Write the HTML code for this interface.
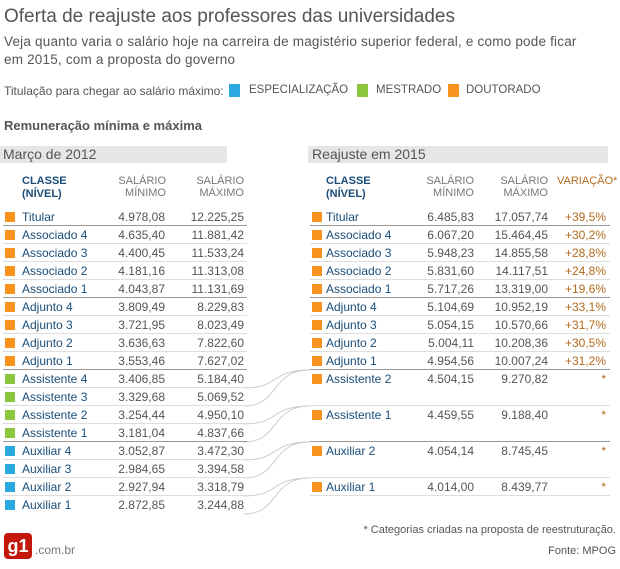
<!DOCTYPE html><html><head><meta charset="utf-8"><style>
body{margin:0;width:620px;height:569px;background:#fff;font-family:"Liberation Sans",sans-serif;position:relative;overflow:hidden;color:#555}
.a{position:absolute;white-space:nowrap}
.r{position:absolute;height:17px;line-height:18px;font-size:12px;border-bottom:1px solid #ddd}
.r.d{border-bottom-color:#999}
.r span{position:absolute;top:0}
.sq{width:10px;height:10px;top:4px!important}
.n{color:#1a4d78}
.o{background:#f7931e}.g{background:#8cc63f}.b{background:#29a9e0}
.v{color:#b36a1c}
.h{font-size:11px;line-height:12px;color:#777;text-align:right}
</style></head><body>
<div class="a" style="left:4px;top:6px;font-size:19px;color:#555">Oferta de reajuste aos professores das universidades</div>
<div class="a" style="left:4px;top:33px;font-size:13.5px;line-height:18px;color:#555;white-space:normal;width:578px;letter-spacing:0.2px">Veja quanto varia o salário hoje na carreira de magistério superior federal, e como pode ficar em 2015, com a proposta do governo</div>
<div class="a" style="left:4px;top:84px;font-size:12px;color:#555">Titulação para chegar ao salário máximo:</div>
<div class="a b" style="left:229px;top:84px;width:11px;height:13px"></div><div class="a" style="left:249px;top:84px;font-size:11.5px">ESPECIALIZAÇÃO</div>
<div class="a g" style="left:357px;top:84px;width:11px;height:13px"></div><div class="a" style="left:376px;top:84px;font-size:11.5px">MESTRADO</div>
<div class="a o" style="left:448px;top:84px;width:11px;height:13px"></div><div class="a" style="left:466px;top:84px;font-size:11.5px">DOUTORADO</div>
<div class="a" style="left:4px;top:118px;font-size:13px;font-weight:bold;color:#555">Remuneração mínima e máxima</div>
<div class="a" style="left:0;top:146px;width:227px;height:17px;background:#e6e6e6;font-size:14px;line-height:17px;padding-left:3px;box-sizing:border-box">Março de 2012</div>
<div class="a" style="left:308px;top:146px;width:300px;height:17px;background:#e6e6e6;font-size:14px;line-height:17px;padding-left:4px;box-sizing:border-box">Reajuste em 2015</div>
<div class="a n" style="left:22px;top:175px;font-size:11px;font-weight:bold;line-height:13px">CLASSE<br>(NÍVEL)</div>
<div class="a h" style="left:100px;top:175px;width:66px">SALÁRIO<br>MÍNIMO</div>
<div class="a h" style="left:170px;top:175px;width:74px">SALÁRIO<br>MÁXIMO</div>
<div class="a n" style="left:326px;top:175px;font-size:11px;font-weight:bold;line-height:13px">CLASSE<br>(NÍVEL)</div>
<div class="a h" style="left:405px;top:175px;width:69px">SALÁRIO<br>MÍNIMO</div>
<div class="a h" style="left:475px;top:175px;width:73px">SALÁRIO<br>MÁXIMO</div>
<div class="a h" style="left:550px;top:175px;width:70px;color:#b36a1c;text-align:left;padding-left:7px">VARIAÇÃO*</div>
<svg class="a" style="left:200px;top:360px" width="130" height="160"><g fill="none" stroke="#ccc" stroke-width="1">
<path d="M44,28 C80,28 70,10 110,10"/><path d="M44,46 C80,46 70,10 110,10"/><path d="M44,64 C80,64 70,46 110,46"/><path d="M44,82 C80,82 70,46 110,46"/>
<path d="M44,100 C80,100 70,82 110,82"/><path d="M44,118 C80,118 70,82 110,82"/><path d="M44,136 C80,136 70,118 110,118"/><path d="M44,154 C80,154 70,118 110,118"/></g></svg>
<div class="r d" style="left:3px;top:208px;width:244px"><span class="sq o" style="left:2px"></span><span class="n" style="left:19px">Titular</span><span style="right:82px">4.978,08</span><span style="right:3px">12.225,25</span></div>
<div class="r" style="left:3px;top:226px;width:244px"><span class="sq o" style="left:2px"></span><span class="n" style="left:19px">Associado 4</span><span style="right:82px">4.635,40</span><span style="right:3px">11.881,42</span></div>
<div class="r" style="left:3px;top:244px;width:244px"><span class="sq o" style="left:2px"></span><span class="n" style="left:19px">Associado 3</span><span style="right:82px">4.400,45</span><span style="right:3px">11.533,24</span></div>
<div class="r" style="left:3px;top:262px;width:244px"><span class="sq o" style="left:2px"></span><span class="n" style="left:19px">Associado 2</span><span style="right:82px">4.181,16</span><span style="right:3px">11.313,08</span></div>
<div class="r d" style="left:3px;top:280px;width:244px"><span class="sq o" style="left:2px"></span><span class="n" style="left:19px">Associado 1</span><span style="right:82px">4.043,87</span><span style="right:3px">11.131,69</span></div>
<div class="r" style="left:3px;top:298px;width:244px"><span class="sq o" style="left:2px"></span><span class="n" style="left:19px">Adjunto 4</span><span style="right:82px">3.809,49</span><span style="right:3px">8.229,83</span></div>
<div class="r" style="left:3px;top:316px;width:244px"><span class="sq o" style="left:2px"></span><span class="n" style="left:19px">Adjunto 3</span><span style="right:82px">3.721,95</span><span style="right:3px">8.023,49</span></div>
<div class="r" style="left:3px;top:334px;width:244px"><span class="sq o" style="left:2px"></span><span class="n" style="left:19px">Adjunto 2</span><span style="right:82px">3.636,63</span><span style="right:3px">7.822,60</span></div>
<div class="r d" style="left:3px;top:352px;width:244px"><span class="sq o" style="left:2px"></span><span class="n" style="left:19px">Adjunto 1</span><span style="right:82px">3.553,46</span><span style="right:3px">7.627,02</span></div>
<div class="r" style="left:3px;top:370px;width:244px"><span class="sq g" style="left:2px"></span><span class="n" style="left:19px">Assistente 4</span><span style="right:82px">3.406,85</span><span style="right:3px">5.184,40</span></div>
<div class="r" style="left:3px;top:388px;width:244px"><span class="sq g" style="left:2px"></span><span class="n" style="left:19px">Assistente 3</span><span style="right:82px">3.329,68</span><span style="right:3px">5.069,52</span></div>
<div class="r" style="left:3px;top:406px;width:244px"><span class="sq g" style="left:2px"></span><span class="n" style="left:19px">Assistente 2</span><span style="right:82px">3.254,44</span><span style="right:3px">4.950,10</span></div>
<div class="r d" style="left:3px;top:424px;width:244px"><span class="sq g" style="left:2px"></span><span class="n" style="left:19px">Assistente 1</span><span style="right:82px">3.181,04</span><span style="right:3px">4.837,66</span></div>
<div class="r" style="left:3px;top:442px;width:244px"><span class="sq b" style="left:2px"></span><span class="n" style="left:19px">Auxiliar 4</span><span style="right:82px">3.052,87</span><span style="right:3px">3.472,30</span></div>
<div class="r" style="left:3px;top:460px;width:244px"><span class="sq b" style="left:2px"></span><span class="n" style="left:19px">Auxiliar 3</span><span style="right:82px">2.984,65</span><span style="right:3px">3.394,58</span></div>
<div class="r" style="left:3px;top:478px;width:244px"><span class="sq b" style="left:2px"></span><span class="n" style="left:19px">Auxiliar 2</span><span style="right:82px">2.927,94</span><span style="right:3px">3.318,79</span></div>
<div class="r" style="left:3px;top:496px;width:244px;border:0"><span class="sq b" style="left:2px"></span><span class="n" style="left:19px">Auxiliar 1</span><span style="right:82px">2.872,85</span><span style="right:3px">3.244,88</span></div>
<div class="r d" style="left:310px;top:208px;width:300px"><span class="sq o" style="left:2px"></span><span class="n" style="left:16px">Titular</span><span style="right:136px">6.485,83</span><span style="right:62px">17.057,74</span><span class="v" style="right:4px">+39,5%</span></div>
<div class="r" style="left:310px;top:226px;width:300px"><span class="sq o" style="left:2px"></span><span class="n" style="left:16px">Associado 4</span><span style="right:136px">6.067,20</span><span style="right:62px">15.464,45</span><span class="v" style="right:4px">+30,2%</span></div>
<div class="r" style="left:310px;top:244px;width:300px"><span class="sq o" style="left:2px"></span><span class="n" style="left:16px">Associado 3</span><span style="right:136px">5.948,23</span><span style="right:62px">14.855,58</span><span class="v" style="right:4px">+28,8%</span></div>
<div class="r" style="left:310px;top:262px;width:300px"><span class="sq o" style="left:2px"></span><span class="n" style="left:16px">Associado 2</span><span style="right:136px">5.831,60</span><span style="right:62px">14.117,51</span><span class="v" style="right:4px">+24,8%</span></div>
<div class="r d" style="left:310px;top:280px;width:300px"><span class="sq o" style="left:2px"></span><span class="n" style="left:16px">Associado 1</span><span style="right:136px">5.717,26</span><span style="right:62px">13.319,00</span><span class="v" style="right:4px">+19,6%</span></div>
<div class="r" style="left:310px;top:298px;width:300px"><span class="sq o" style="left:2px"></span><span class="n" style="left:16px">Adjunto 4</span><span style="right:136px">5.104,69</span><span style="right:62px">10.952,19</span><span class="v" style="right:4px">+33,1%</span></div>
<div class="r" style="left:310px;top:316px;width:300px"><span class="sq o" style="left:2px"></span><span class="n" style="left:16px">Adjunto 3</span><span style="right:136px">5.054,15</span><span style="right:62px">10.570,66</span><span class="v" style="right:4px">+31,7%</span></div>
<div class="r" style="left:310px;top:334px;width:300px"><span class="sq o" style="left:2px"></span><span class="n" style="left:16px">Adjunto 2</span><span style="right:136px">5.004,11</span><span style="right:62px">10.208,36</span><span class="v" style="right:4px">+30,5%</span></div>
<div class="r d" style="left:310px;top:352px;width:300px"><span class="sq o" style="left:2px"></span><span class="n" style="left:16px">Adjunto 1</span><span style="right:136px">4.954,56</span><span style="right:62px">10.007,24</span><span class="v" style="right:4px">+31,2%</span></div>
<div class="r" style="left:310px;top:370px;width:300px;height:35px"><span class="sq o" style="left:2px"></span><span class="n" style="left:16px">Assistente 2</span><span style="right:136px">4.504,15</span><span style="right:62px">9.270,82</span><span class="v" style="right:4px">*</span></div>
<div class="r d" style="left:310px;top:406px;width:300px;height:35px"><span class="sq o" style="left:2px"></span><span class="n" style="left:16px">Assistente 1</span><span style="right:136px">4.459,55</span><span style="right:62px">9.188,40</span><span class="v" style="right:4px">*</span></div>
<div class="r" style="left:310px;top:442px;width:300px;height:35px"><span class="sq o" style="left:2px"></span><span class="n" style="left:16px">Auxiliar 2</span><span style="right:136px">4.054,14</span><span style="right:62px">8.745,45</span><span class="v" style="right:4px">*</span></div>
<div class="r" style="left:310px;top:478px;width:300px;height:17px"><span class="sq o" style="left:2px"></span><span class="n" style="left:16px">Auxiliar 1</span><span style="right:136px">4.014,00</span><span style="right:62px">8.439,77</span><span class="v" style="right:4px">*</span></div>
<div class="a" style="right:4px;top:524px;font-size:11px;color:#555">* Categorias criadas na proposta de reestruturação.</div>
<div class="a" style="right:4px;top:545px;font-size:11px;color:#555">Fonte: MPOG</div>
<div class="a" style="left:4px;top:533px;width:28px;height:26px;background:#c4170c;border-radius:4px;color:#fff;font-weight:bold;font-size:18px;line-height:26px;text-align:center">g1</div>
<div class="a" style="left:35px;top:543px;font-size:12px;color:#777">.com.br</div>
</body></html>
